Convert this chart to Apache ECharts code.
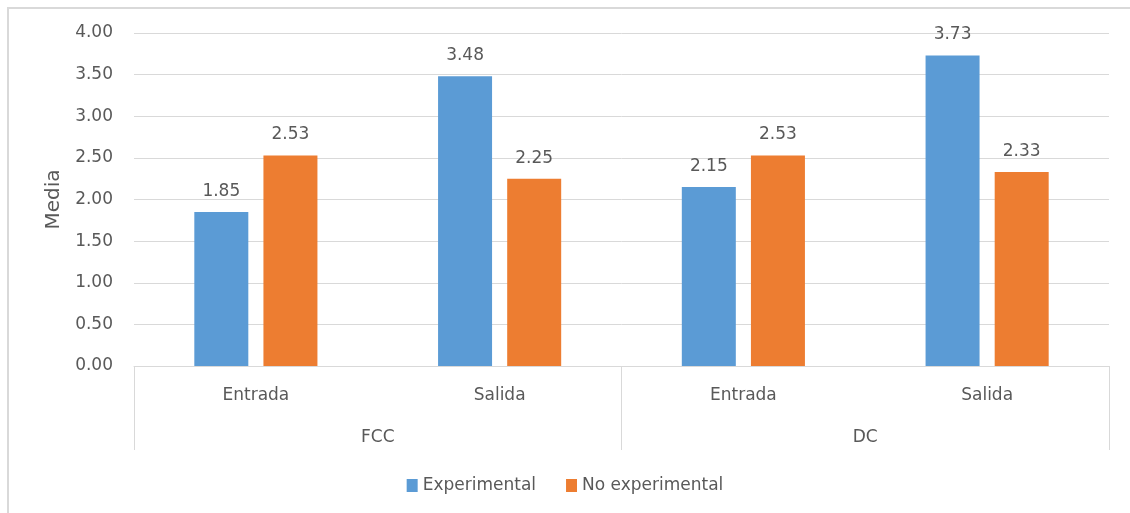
<!DOCTYPE html>
<html>
<head>
<meta charset="utf-8">
<script src="https://cdn.jsdelivr.net/npm/echarts@6/dist/echarts.min.js"></script>
<style>
  html, body { margin: 0; padding: 0; background: #fff; overflow: hidden; }
  #chart { width: 1130px; height: 513px; }
</style>
</head>
<body>
<div id="chart"></div>
<script>
// Session per group (inner level) and group names (outer level)
const sessions = ['Entrada', 'Salida', 'Entrada', 'Salida'];
const groups = ['FCC', 'DC'];
const seriesNames = ['Experimental', 'No experimental'];
const experimental = [1.85, 3.48, 2.15, 3.73];
const noExperimental = [2.53, 2.25, 2.53, 2.33];
const yTicks = [0, 0.5, 1, 1.5, 2, 2.5, 3, 3.5, 4];

const FONT = 'DejaVu Sans';
const TEXT = '#595959';
const LINE = '#d9d9d9';

const chart = echarts.init(document.getElementById('chart'));

const barLabel = {
  show: true,
  position: 'top',
  distance: 12,
  color: TEXT,
  fontFamily: FONT,
  fontSize: 17,
  formatter: p => p.value.toFixed(2)
};

chart.setOption({
  backgroundColor: '#fff',
  animation: false,
  textStyle: { fontFamily: FONT },
  graphic: [{
    // frame edges along the top and left of the chart area
    type: 'polyline',
    shape: { points: [[8, 513], [8, 8], [1130, 8]] },
    style: { fill: null, stroke: LINE, lineWidth: 2 },
    silent: true
  }],
  grid: { left: 134, right: 21, top: 33, bottom: 147 },
  legend: {
    data: seriesNames,
    left: 'center',
    top: 472,
    itemWidth: 11,
    itemHeight: 13,
    itemGap: 30,
    icon: 'rect',
    textStyle: { color: TEXT, fontFamily: FONT, fontSize: 17 }
  },
  xAxis: [
    {
      type: 'category',
      data: sessions,
      position: 'bottom',
      axisLine: { lineStyle: { color: LINE, width: 1 } },
      axisTick: { show: false },
      axisLabel: { color: TEXT, fontFamily: FONT, fontSize: 17, margin: 21 }
    },
    {
      type: 'category',
      data: groups,
      position: 'bottom',
      axisLine: { show: false },
      axisTick: { show: true, length: 84, lineStyle: { color: LINE, width: 1 } },
      axisLabel: { color: TEXT, fontFamily: FONT, fontSize: 17, margin: 63 }
    }
  ],
  yAxis: {
    type: 'value',
    min: yTicks[0],
    max: yTicks[yTicks.length - 1],
    interval: yTicks[1] - yTicks[0],
    name: 'Media',
    nameLocation: 'middle',
    nameRotate: 90,
    nameGap: 69,
    nameTextStyle: { color: TEXT, fontFamily: FONT, fontSize: 20 },
    axisLine: { show: false },
    axisTick: { show: false },
    axisLabel: {
      color: TEXT, fontFamily: FONT, fontSize: 17, margin: 21,
      formatter: v => v.toFixed(2)
    },
    splitLine: { lineStyle: { color: LINE, width: 1 } }
  },
  series: [
    {
      name: seriesNames[0],
      type: 'bar',
      xAxisIndex: 0,
      data: experimental,
      barWidth: 54,
      barGap: '28%',
      itemStyle: { color: '#5B9BD5' },
      label: barLabel
    },
    {
      name: seriesNames[1],
      type: 'bar',
      xAxisIndex: 0,
      data: noExperimental,
      barWidth: 54,
      barGap: '28%',
      itemStyle: { color: '#ED7D31' },
      label: barLabel
    }
  ]
});
</script>
</body>
</html>
